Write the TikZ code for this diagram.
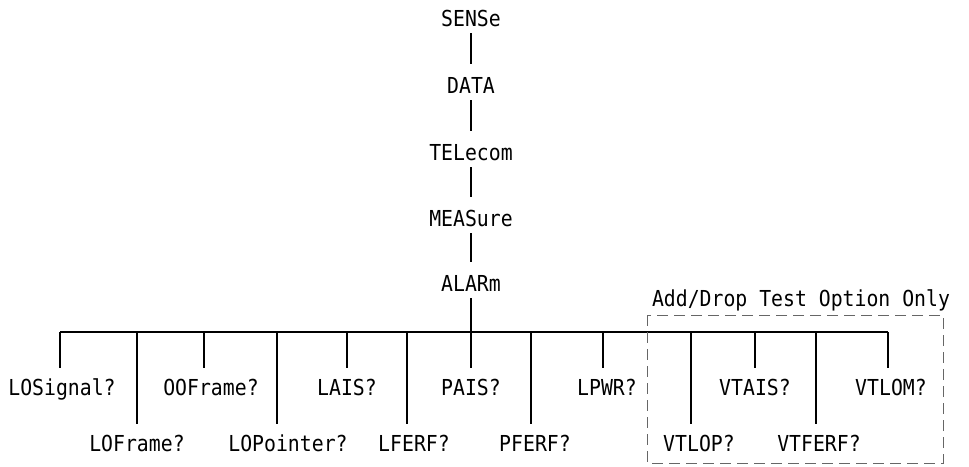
\documentclass[tikz,border=0pt]{standalone}
\usepackage{fontspec}
\setmonofont[FakeStretch=0.9]{DejaVu Sans Mono}
\begin{document}
\begin{tikzpicture}[x=1pt,y=-1pt,line width=2.2pt,
    cmd/.style={font=\ttfamily\fontsize{22}{24}\selectfont,inner xsep=1pt,
      inner ysep=6pt,text height=16pt,text depth=0pt},
    link/.style={shorten >=6pt},
    drop/.style={shorten >=4pt}]
  \useasboundingbox (0,0) rectangle (969,466);

  % command path down to ALARm
  \node[cmd] (sense)   at (471,18)  {SENSe};
  \node[cmd] (data)    at (471,85)  {DATA};
  \node[cmd] (telecom) at (471,152) {TELecom};
  \node[cmd] (measure) at (471,218) {MEASure};
  \node[cmd] (alarm)   at (471,283) {ALARm};
  \draw[link] (sense) -- (data);
  \draw[link] (data) -- (telecom);
  \draw[link] (telecom) -- (measure);
  \draw[link] (measure) -- (alarm);

  % queries hanging off the bar
  \coordinate (fork) at (471,332);
  \foreach \x/\dx/\lbl/\nm/\y in {60/2/LOSignal?/losig/387, 137/0/LOFrame?/lofr/443,
      204/7/OOFrame?/oofr/387, 277/11/LOPointer?/lopt/443, 347/0/LAIS?/lais/387,
      407/7/LFERF?/lferf/443, 471/0/PAIS?/pais/387, 531/4/PFERF?/pferf/443,
      603/4/LPWR?/lpwr/387, 691/8/VTLOP?/vtlop/443, 755/0/VTAIS?/vtais/387,
      816/3/VTFERF?/vtferf/443, 888/3/VTLOM?/vtlom/387}{
    \coordinate (\nm-top) at (\x,332);
    \node[cmd] (\nm) at ({\x+\dx},\y) {\lbl};
    \draw[drop] (\nm-top) -- (\nm-top |- \nm.north);
  }
  \draw (losig-top) -- (vtlom-top);
  \draw (alarm) -- (fork);

  % option frame
  \draw[gray!80!black,line width=1pt,dash pattern=on 11pt off 6pt]
    (647,315) rectangle (943,463);
  \node[cmd] (option) at (801,298) {Add/Drop Test Option Only};
\end{tikzpicture}
\end{document}
